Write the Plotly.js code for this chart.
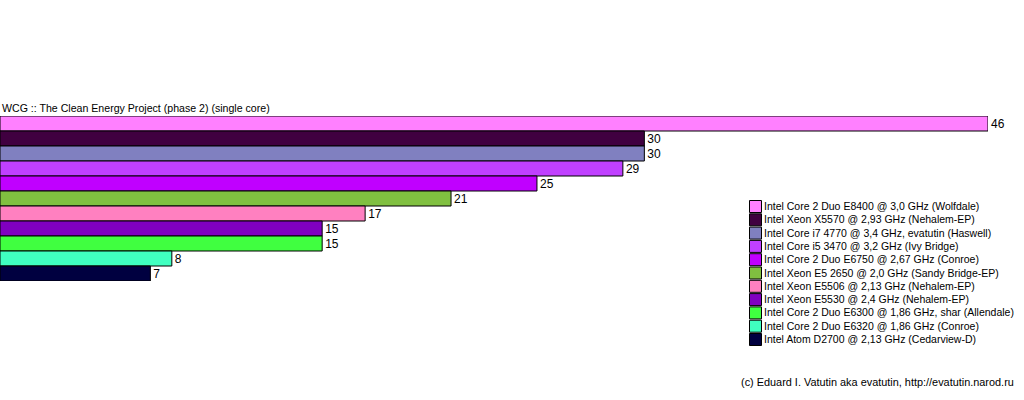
<!DOCTYPE html>
<html>
<head>
<meta charset="utf-8">
<script src="https://cdn.plot.ly/plotly-3.0.1.min.js"></script>
<style>html,body{margin:0;padding:0;background:#fff;}#chart{width:1024px;height:400px;}</style>
</head>
<body>
<div id="chart"></div>
<script>
const categories = [
  "Intel Core 2 Duo E8400 @ 3,0 GHz (Wolfdale)",
  "Intel Xeon X5570 @ 2,93 GHz (Nehalem-EP)",
  "Intel Core i7 4770 @ 3,4 GHz, evatutin (Haswell)",
  "Intel Core i5 3470 @ 3,2 GHz (Ivy Bridge)",
  "Intel Core 2 Duo E6750 @ 2,67 GHz (Conroe)",
  "Intel Xeon E5 2650 @ 2,0 GHz (Sandy Bridge-EP)",
  "Intel Xeon E5506 @ 2,13 GHz (Nehalem-EP)",
  "Intel Xeon E5530 @ 2,4 GHz (Nehalem-EP)",
  "Intel Core 2 Duo E6300 @ 1,86 GHz, shar (Allendale)",
  "Intel Core 2 Duo E6320 @ 1,86 GHz (Conroe)",
  "Intel Atom D2700 @ 2,13 GHz (Cedarview-D)"
];
const values = [46, 30, 30, 29, 25, 21, 17, 15, 15, 8, 7];
const colors = ["#FF80FF", "#400040", "#8080C0", "#C040FF", "#C000FF", "#80C040",
                "#FF80C0", "#8000C0", "#40FF40", "#40FFC0", "#000040"];
const titleText = "WCG :: The Clean Energy Project (phase 2) (single core)";
const footerText = "(c) Eduard I. Vatutin aka evatutin, http://evatutin.narod.ru";

const W = 1024, H = 400;
const plotTop = 116, plotBottom = 281;
const plotH = plotBottom - plotTop;
const FONT = "Liberation Sans, Arial, sans-serif";
const px2x = p => p / W;
const py2y = p => (plotBottom - p) / plotH;

const traces = categories.map((c, i) => ({
  type: "bar",
  orientation: "h",
  name: c,
  y: [c],
  x: [values[i]],
  text: [String(values[i])],
  textposition: "outside",
  constraintext: "none",
  cliponaxis: false,
  textfont: {family: FONT, size: 12, color: "#000"},
  marker: {color: colors[i], line: {color: "#000", width: 1}},
  hoverinfo: "x+name",
  showlegend: false
}));

const shapes = [];
const annotations = [];
const legTop = 200, legPitch = 13.3, sq = 12, legX = 749.5;
categories.forEach((c, i) => {
  const top = legTop + i * legPitch;
  shapes.push({
    type: "rect", xref: "paper", yref: "paper",
    x0: px2x(legX), x1: px2x(legX + sq),
    y0: py2y(top + 0.5), y1: py2y(top + 0.5 + sq),
    fillcolor: colors[i], line: {color: "#000", width: 1}
  });
  annotations.push({
    xref: "paper", yref: "paper",
    x: px2x(761.5), y: py2y(top + 6),
    xanchor: "left", yanchor: "middle",
    text: c, showarrow: false,
    font: {family: FONT, size: 10.5, color: "#000"}
  });
});
annotations.push({
  xref: "paper", yref: "paper",
  x: px2x(1016), y: py2y(382),
  xanchor: "right", yanchor: "middle",
  text: footerText, showarrow: false,
  font: {family: FONT, size: 10.9, color: "#000"}
});

const layout = {
  width: W, height: H,
  margin: {l: 0, r: 0, t: plotTop, b: H - plotBottom, pad: 0},
  paper_bgcolor: "#fff", plot_bgcolor: "#fff",
  title: {
    text: titleText,
    xref: "container", yref: "container",
    x: 2 / W, y: 1 - 108.5 / H,
    xanchor: "left", yanchor: "middle",
    font: {family: FONT, size: 10.6, color: "#000"}
  },
  barmode: "overlay",
  bargap: 0,
  showlegend: false,
  xaxis: {domain: [0, 988 / W], range: [0, 46], visible: false, fixedrange: true},
  yaxis: {type: "category", categoryarray: categories, autorange: "reversed",
          range: [categories.length - 0.5, -0.5], visible: false, fixedrange: true},
  shapes: shapes,
  annotations: annotations
};

Plotly.newPlot("chart", traces, layout, {displayModeBar: false, staticPlot: true});
</script>
</body>
</html>
